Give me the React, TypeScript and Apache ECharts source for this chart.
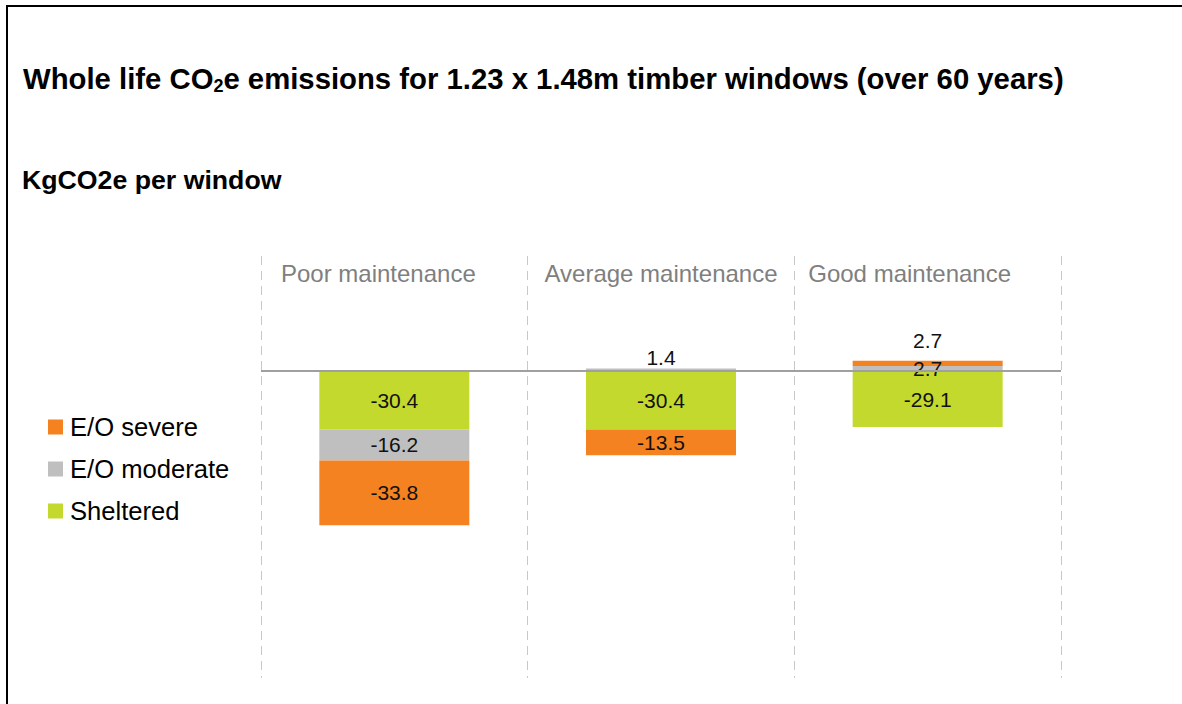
import React, { useEffect, useRef } from "react";
import * as echarts from "echarts";

const categories = ["Poor maintenance", "Average maintenance", "Good maintenance"];
const shelteredValues = [-30.4, -30.4, -29.1];
const moderateValues = [-16.2, 1.4, 2.7];
const severeValues = [-33.8, -13.5, 2.7];
const seriesNames = ["Sheltered", "E/O moderate", "E/O severe"];
const legendOrder = ["E/O severe", "E/O moderate", "Sheltered"];

const COLORS = { sheltered: "#C4D92E", moderate: "#BFBFBF", severe: "#F58220" };
const FONT = '"Liberation Sans", Arial, Helvetica, sans-serif';

// per-category label nudges (style only)
const catPadding: Record<number, number[]> = { 0: [0, 32, 0, 0], 2: [0, 36, 0, 0] };
// per-point label placement (style only)
const moderateLabel: Record<number, any> = { 1: { position: "top", distance: 0 } };
const severeLabel: Record<number, any> = { 2: { position: "top", distance: 10 } };

function withLabels(values: number[], overrides: Record<number, any>) {
  return values.map((v, i) => (overrides[i] ? { value: v, label: overrides[i] } : v));
}

export default function App() {
  const ref = useRef<HTMLDivElement>(null);
  useEffect(() => {
    if (!ref.current) return;
    const chart = echarts.init(ref.current, undefined, { renderer: "svg" });
    const baseLabel = {
      show: true,
      position: "inside",
      fontSize: 21,
      color: "#111",
      fontFamily: FONT,
      formatter: (p: any) => Number(p.value).toFixed(1),
    };
    const option: any = {
      animation: false,
      backgroundColor: "#fff",
      textStyle: { fontFamily: FONT },
      graphic: [
        {
          type: "rect",
          shape: { x: 7, y: 6, width: 1200, height: 800 },
          style: { fill: "none", stroke: "#000", lineWidth: 2 },
          silent: true,
        },
      ],
      title: [
        {
          text: "Whole life CO{sub|2}e emissions for 1.23 x 1.48m timber windows (over 60 years)",
          left: 18,
          top: 56,
          textStyle: {
            fontSize: 29.3,
            fontWeight: "bold",
            color: "#000",
            fontFamily: FONT,
            lineHeight: 34,
            rich: {
              sub: { fontSize: 18, fontWeight: "bold", color: "#000", verticalAlign: "bottom", lineHeight: 22, fontFamily: FONT },
            },
          },
        },
        {
          text: "KgCO2e per window",
          left: 17,
          top: 161,
          textStyle: { fontSize: 26.7, fontWeight: "bold", color: "#000", fontFamily: FONT },
        },
      ],
      legend: {
        orient: "vertical",
        left: 43,
        top: 409,
        icon: "rect",
        itemWidth: 15,
        itemHeight: 15,
        itemGap: 16,
        data: legendOrder,
        textStyle: { fontSize: 25.6, color: "#000", fontFamily: FONT, lineHeight: 25, padding: [0, 0, 0, 2] },
      },
      grid: { left: 261, right: 121, top: 256, bottom: 26 },
      xAxis: {
        type: "category",
        position: "top",
        data: categories.map((c, i) => (catPadding[i] ? { value: c, textStyle: { padding: catPadding[i] } } : c)),
        axisLine: { show: false },
        axisTick: { show: false, interval: 0 },
        axisLabel: { inside: true, interval: 0, fontSize: 24, color: "#7f7f7f", margin: 5, fontFamily: FONT },
        splitLine: { show: true, interval: 0, lineStyle: { color: "#c8c8c8", width: 1, type: [9, 6] } },
      },
      yAxis: { type: "value", min: -160, max: 60, show: false },
      series: [
        {
          name: seriesNames[0],
          type: "bar",
          stack: "total",
          barWidth: 150,
          itemStyle: { color: COLORS.sheltered },
          label: baseLabel,
          data: shelteredValues,
        },
        {
          name: seriesNames[1],
          type: "bar",
          stack: "total",
          barWidth: 150,
          itemStyle: { color: COLORS.moderate },
          label: baseLabel,
          data: withLabels(moderateValues, moderateLabel),
        },
        {
          name: seriesNames[2],
          type: "bar",
          stack: "total",
          barWidth: 150,
          itemStyle: { color: COLORS.severe },
          label: baseLabel,
          data: withLabels(severeValues, severeLabel),
          markLine: {
            silent: true,
            symbol: ["none", "none"],
            label: { show: false },
            lineStyle: { color: "#a0a0a0", width: 2, type: "solid" },
            data: [{ yAxis: 0 }],
          },
        },
      ],
    };
    chart.setOption(option);
    return () => chart.dispose();
  }, []);
  return (
    <div style={{ position: "absolute", left: 0, top: 0, width: 1182, height: 704, background: "#fff" }}>
      <div ref={ref} style={{ width: 1182, height: 704 }} />
    </div>
  );
}
